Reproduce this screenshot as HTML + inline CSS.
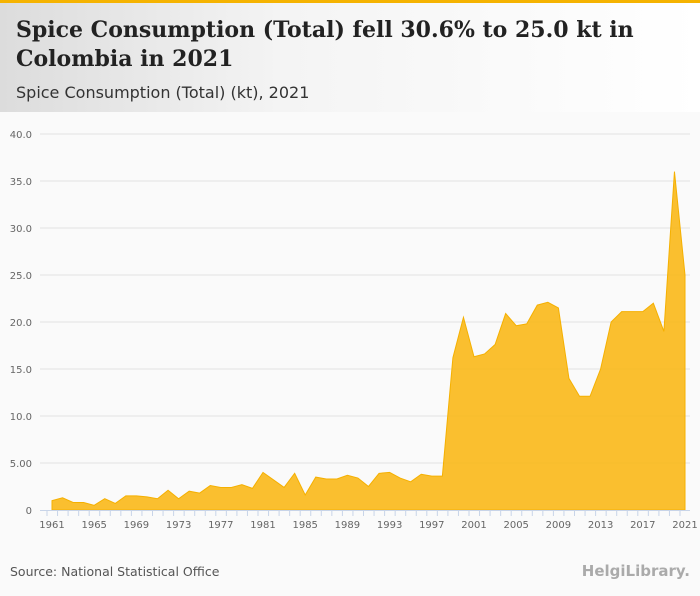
<!DOCTYPE html>
<html><head><meta charset="utf-8"><style>
body{margin:0;width:700px;height:596px;overflow:hidden;background:#fafafa;font-family:"DejaVu Sans",sans-serif}
#hdr{position:absolute;left:0;top:0;width:700px;height:112px;background:linear-gradient(90deg,#dcdcdc 0%,#f4f4f4 40%,#fff 100%);border-top:3px solid #f5b301;box-sizing:border-box}
h1{position:absolute;left:16px;top:13px;margin:0;font:bold 22px/29px "DejaVu Serif",serif;color:#222;width:650px}
#sub{position:absolute;left:16px;top:80px;font:16px "DejaVu Sans",sans-serif;color:#333}
#src{position:absolute;left:10px;top:564px;font:12.5px "DejaVu Sans",sans-serif;color:#555}
#logo{position:absolute;right:10px;top:562px;font:bold 15px "DejaVu Sans",sans-serif;color:#aaa}
</style></head><body>
<div id="hdr">
<h1>Spice Consumption (Total) fell 30.6% to 25.0 kt in Colombia in 2021</h1>
<div id="sub">Spice Consumption (Total) (kt), 2021</div>
</div>
<svg id="c" width="700" height="596" style="position:absolute;left:0;top:0"></svg>
<div id="src">Source: National Statistical Office</div>
<div id="logo">HelgiLibrary.</div>
<script>
const years=[];for(let y=1961;y<=2021;y++)years.push(y);
const values=[1.0,1.3,0.8,0.8,0.5,1.2,0.7,1.5,1.5,1.4,1.2,2.1,1.2,2.0,1.8,2.6,2.4,2.4,2.7,2.3,4.0,3.2,2.4,3.9,1.6,3.5,3.3,3.3,3.7,3.4,2.5,3.9,4.0,3.4,3.0,3.8,3.6,3.6,16.2,20.5,16.3,16.6,17.6,20.9,19.6,19.8,21.8,22.1,21.5,14.0,12.1,12.1,15.0,20.0,21.1,21.1,21.1,22.0,19.0,36.0,25.0];
const yTicks=[0,5,10,15,20,25,30,35,40];
const yLabels=["0","5.00","10.0","15.0","20.0","25.0","30.0","35.0","40.0"];
const xLabels=[1961,1965,1969,1973,1977,1981,1985,1989,1993,1997,2001,2005,2009,2013,2017,2021];
const svg=document.getElementById('c'),NS='http://www.w3.org/2000/svg';
const X=y=>52+(y-1961)*(685-52)/60, Y=v=>510-v*(510-134)/40;
function mk(t,a){const e=document.createElementNS(NS,t);for(const k in a)e.setAttribute(k,a[k]);svg.appendChild(e);return e;}
yTicks.forEach((t,i)=>{
 if(t>0){const g=mk('line',{x1:40,x2:690,y1:Y(t),y2:Y(t),stroke:'#e2e2e2','stroke-width':1});
 
 }
 const l=mk('text',{x:32,y:Y(t)+4,'text-anchor':'end','font-size':10,fill:'#666','font-family':'DejaVu Sans'});l.textContent=yLabels[i];
 
 
});
let d='M'+X(years[0])+','+Y(0);
years.forEach((y,i)=>d+='L'+X(y)+','+Y(values[i]));
d+='L'+X(years[years.length-1])+','+Y(0)+'Z';
const a=mk('path',{d:d,fill:'#f9b612',stroke:'#f5b000','stroke-width':1,'fill-opacity':0.88});


const ax=mk('line',{x1:40,x2:690,y1:510.5,y2:510.5,stroke:'#c8d4e8'});


years.forEach(y=>{const t=mk('line',{x1:X(y)-5,x2:X(y)-5,y1:510,y2:516,stroke:'#c8d4e8'});
 
 });
xLabels.forEach(y=>{const l=mk('text',{x:X(y),y:528,'text-anchor':'middle','font-size':10,fill:'#666','font-family':'DejaVu Sans'});l.textContent=y;
 
 });
</script>
</body></html>
